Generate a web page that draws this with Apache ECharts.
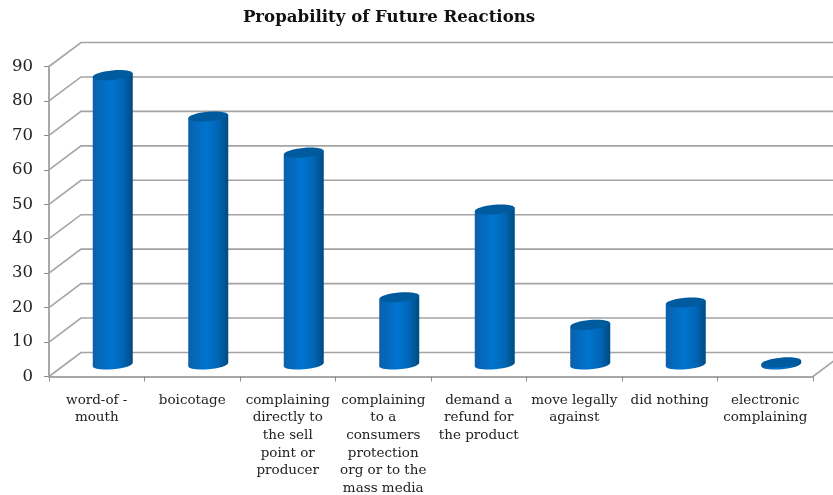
<!DOCTYPE html>
<html>
<head>
<meta charset="utf-8">
<style>html,body{margin:0;padding:0;background:#fff}#chart{width:833px;height:495px}</style>
<script src="https://cdn.jsdelivr.net/npm/echarts@6/dist/echarts.min.js"></script>
</head>
<body>
<div id="chart"></div>
<script>
const titleText = 'Propability of Future Reactions';
const categories = [
  'word-of -\nmouth',
  'boicotage',
  'complaining\ndirectly to\nthe sell\npoint or\nproducer',
  'complaining\nto a\nconsumers\nprotection\norg or to the\nmass media',
  'demand a\nrefund for\nthe product',
  'move legally\nagainst',
  'did nothing',
  'electronic\ncomplaining'
];
const reactionValues = [84, 72, 61.5, 19.5, 45, 11.5, 18, 0.6];
const yTicks = [0, 10, 20, 30, 40, 50, 60, 70, 80, 90];

// Oblique projection of the chart box: how far the back wall sits from the front plane.
const DEPTH_X = 32;
const DEPTH_Y = -24;
const CYL_RX = 20;
const CYL_RY = 4.8;
const CYL_TILT = 0.09;
const WALL_COLOR = '#a4a4a4';
const FONT = '"DejaVu Serif", serif';

function renderWallLine(params, api) {
  const cs = params.coordSys;
  const y = api.coord([0, api.value(1)])[1];
  const left = cs.x;
  const right = cs.x + cs.width;
  const lineStyle = { stroke: WALL_COLOR, lineWidth: 1.6, fill: null };
  const children = [{
    type: 'polyline',
    shape: { points: [[left, y], [left + DEPTH_X, y + DEPTH_Y], [right + DEPTH_X, y + DEPTH_Y]] },
    style: lineStyle
  }];
  if (api.value(1) === 0) {
    // Right edge of the floor
    children.push({
      type: 'line',
      shape: { x1: right, y1: y, x2: right + DEPTH_X, y2: y + DEPTH_Y },
      style: lineStyle
    });
  }
  return { type: 'group', children };
}

function renderCylinder(params, api) {
  const cat = api.value(0);
  const top = api.coord([cat, api.value(1)]);
  const base = api.coord([cat, 0]);
  const cx = top[0] + DEPTH_X / 2;
  const yTop = top[1] + DEPTH_Y / 2;
  const yBase = base[1] + DEPTH_Y / 2;
  const dy = CYL_RX * Math.sin(CYL_TILT);
  const side = {
    type: 'linear', x: 0, y: 0, x2: 1, y2: 0,
    colorStops: [
      { offset: 0, color: '#0e5fa8' },
      { offset: 0.12, color: '#0666b6' },
      { offset: 0.45, color: '#0074cf' },
      { offset: 0.75, color: '#0066b6' },
      { offset: 0.93, color: '#00528f' },
      { offset: 1, color: '#004a84' }
    ]
  };
  const ellipse = (cy, fill) => ({
    type: 'ellipse',
    x: cx, y: cy, rotation: CYL_TILT,
    shape: { cx: 0, cy: 0, rx: CYL_RX, ry: CYL_RY },
    style: { fill }
  });
  return {
    type: 'group',
    children: [
      ellipse(yBase, side),
      {
        type: 'polygon',
        shape: { points: [
          [cx - CYL_RX, yTop + dy], [cx + CYL_RX, yTop - dy],
          [cx + CYL_RX, yBase - dy], [cx - CYL_RX, yBase + dy]
        ] },
        style: { fill: side }
      },
      ellipse(yTop, '#005a9e')
    ]
  };
}

const chart = echarts.init(document.getElementById('chart'), null, { renderer: 'canvas' });
chart.setOption({
  animation: false,
  backgroundColor: '#ffffff',
  title: {
    text: titleText,
    left: 384, top: 4, textAlign: 'center',
    textStyle: { fontFamily: FONT, fontWeight: 'bold', fontSize: 16.6, color: '#111' }
  },
  grid: { left: 49, right: 20, top: 66.5, bottom: 118.5, outerBoundsMode: 'none', containLabel: false },
  xAxis: {
    type: 'category',
    data: categories,
    axisLine: { lineStyle: { color: '#8c8c8c', width: 1.5 } },
    axisTick: { show: true, length: 5, alignWithLabel: false, lineStyle: { color: '#8c8c8c' } },
    axisLabel: {
      interval: 0, margin: 15, color: '#222', fontFamily: FONT, fontSize: 13.5, lineHeight: 17.6,
      align: 'center', verticalAlign: 'top', hideOverlap: false
    }
  },
  yAxis: {
    type: 'value', min: 0, max: 90, interval: 10,
    axisLine: { show: true, lineStyle: { color: '#8c8c8c', width: 1.5 } },
    axisTick: { show: true, length: 5, lineStyle: { color: '#8c8c8c' } },
    splitLine: { show: false },
    axisLabel: {
      margin: 16, color: '#222', fontFamily: FONT, fontSize: 16.5
    }
  },
  series: [
    {
      type: 'custom', name: 'walls', z: 1, clip: false, silent: true,
      renderItem: renderWallLine,
      encode: { x: 0, y: 1 },
      data: yTicks.map(v => [0, v])
    },
    {
      type: 'custom', name: 'reactions', z: 2, clip: false,
      renderItem: renderCylinder,
      encode: { x: 0, y: 1 },
      data: reactionValues.map((v, i) => [i, v])
    }
  ]
});
</script>
</body>
</html>
